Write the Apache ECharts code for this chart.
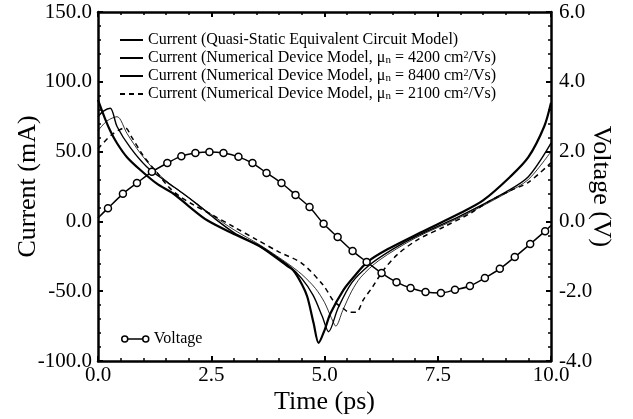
<!DOCTYPE html>
<html><head><meta charset="utf-8">
<script src="https://cdn.jsdelivr.net/npm/echarts@6/dist/echarts.min.js"></script>
<style>html,body{margin:0;padding:0;background:#fff}#c{width:633px;height:419px}</style>
</head><body><div id="c"></div>
<script>
// ---- data ----
// Quasi-static equivalent circuit model (mA)
const qsT = [0, 0.15, 0.27, 0.42, 0.64, 0.93, 1.3, 1.66, 2.0, 2.4, 3.0, 3.58, 4.18, 4.31, 4.5, 4.62, 4.76, 4.87, 5.0, 5.13, 5.42, 5.64, 5.95, 6.39, 7.12, 8.0, 8.5, 9.1, 9.5, 9.85, 10];
const qsI = [87, 74, 65, 56, 46, 37, 27, 20, 11, 1, -9, -18, -32, -35, -45, -54, -73, -87, -78, -66, -49, -40, -29, -20, -8, 6, 15, 32, 46, 68, 85];
// Numerical device model, mu_n = 8400
const n84T = [0, 0.12, 0.27, 0.42, 0.71, 1.08, 1.53, 1.88, 2.2, 2.5, 3.0, 3.58, 4.18, 4.5, 4.75, 4.95, 5.09, 5.3, 5.6, 6.0, 6.5, 7.0, 8.0, 9.0, 9.5, 10];
const n84I = [75, 79, 81, 68, 53, 39, 28, 20, 12, 4, -8, -18, -31, -41, -53, -68, -79, -62, -44, -31, -20, -11, 4, 21, 32, 56];
// Numerical device model, mu_n = 4200
const n42T = [0, 0.2, 0.42, 0.64, 0.93, 1.3, 1.66, 2.0, 2.5, 3.0, 3.58, 4.18, 4.5, 4.8, 5.0, 5.15, 5.25, 5.4, 5.6, 5.8, 6.2, 7.0, 8.0, 9.0, 9.5, 10];
const n42I = [65, 72, 75, 63, 49, 35, 25, 17, 5, -6, -17, -30, -38, -48, -58, -69, -75, -64, -50, -40, -28, -12, 3, 20, 30, 50];
// Numerical device model, mu_n = 2100
const n21T = [0, 0.3, 0.6, 0.75, 1.0, 1.3, 1.55, 1.8, 2.1, 2.5, 3.0, 3.5, 4.0, 4.5, 4.98, 5.2, 5.4, 5.55, 5.7, 5.86, 6.06, 6.3, 6.6, 7.06, 7.63, 8.23, 8.67, 9.1, 9.5, 10];
const n21I = [52, 62, 67, 60, 47, 35, 25, 18, 12, 5, -4, -13, -22, -30, -46, -57, -62, -65, -65, -56, -47, -35, -24, -13, -4, 6, 15, 22, 28, 42];
// Voltage (V)
const vT = [0, 0.22, 0.55, 0.86, 1.19, 1.53, 1.84, 2.15, 2.46, 2.77, 3.10, 3.41, 3.72, 4.05, 4.36, 4.67, 4.98, 5.29, 5.62, 5.93, 6.26, 6.59, 6.90, 7.23, 7.57, 7.88, 8.21, 8.54, 8.87, 9.20, 9.54, 9.87, 10];
const vV = [0.10, 0.38, 0.79, 1.10, 1.42, 1.67, 1.87, 1.96, 1.99, 1.96, 1.85, 1.67, 1.39, 1.10, 0.76, 0.41, -0.07, -0.45, -0.85, -1.16, -1.48, -1.74, -1.91, -2.02, -2.05, -1.96, -1.85, -1.62, -1.36, -1.02, -0.65, -0.28, -0.12];

const legendText = {
  'QS': 'Current (Quasi-Static Equivalent Circuit Model)',
  'N4200': 'Current (Numerical Device Model, μ{sub|n} = 4200 cm{sup|2}/Vs)',
  'N8400': 'Current (Numerical Device Model, μ{sub|n} = 8400 cm{sup|2}/Vs)',
  'N2100': 'Current (Numerical Device Model, μ{sub|n} = 2100 cm{sup|2}/Vs)',
  'Voltage': 'Voltage'
};

const zip = (a, b) => a.map((t, i) => [t, b[i]]);
const FONT = 'Liberation Serif';
const fmt1 = v => v.toFixed(1);

const chart = echarts.init(document.getElementById('c'), null, {renderer: 'canvas'});
const labelStyle = {color: '#000', fontFamily: FONT, fontSize: 21, formatter: fmt1};
const axisCommon = {
  axisLine: {show: true, onZero: false, lineStyle: {color: '#000', width: 2.5}},
  axisTick: {show: true, inside: true, length: 5, lineStyle: {color: '#000', width: 2}},
  minorTick: {show: true, splitNumber: 5, length: 3, lineStyle: {color: '#000', width: 1.5}},
  splitLine: {show: false},
  nameMoveOverlap: false
};
const nameStyle = {color: '#000', fontFamily: FONT, fontSize: 26};
chart.setOption({
  backgroundColor: '#fff',
  animation: false,
  grid: {left: 98, right: 82, top: 12, bottom: 58, containLabel: false, outerBoundsMode: 'none'},
  legend: [{
    data: ['QS', 'N4200', 'N8400', 'N2100'],
    orient: 'vertical', left: 114, top: 27, itemWidth: 23, itemHeight: 10, itemGap: 2,
    formatter: n => legendText[n],
    itemStyle: {color: 'transparent', borderColor: 'transparent', borderWidth: 0},
    textStyle: {color: '#000', fontFamily: FONT, fontSize: 16, lineHeight: 16,
      rich: {sub: {fontFamily: FONT, fontSize: 11, lineHeight: 16, verticalAlign: 'bottom', padding: [5, 0, 0, 0]},
             sup: {fontFamily: FONT, fontSize: 10, lineHeight: 16, verticalAlign: 'top', padding: [0, 0, 3, 0]}}}
  }, {
    data: ['Voltage'], orient: 'vertical', left: 116, top: 326, itemWidth: 27, itemHeight: 8,
    icon: 'path://M0,4 a3,3 0 1,0 6,0 a3,3 0 1,0 -6,0 M6,4 L21,4 M21,4 a3,3 0 1,0 6,0 a3,3 0 1,0 -6,0',
    itemStyle: {color: 'transparent', borderColor: '#000', borderWidth: 1.5},
    formatter: n => legendText[n],
    textStyle: {color: '#000', fontFamily: FONT, fontSize: 16}
  }],
  xAxis: [
    Object.assign({}, axisCommon, {type: 'value', min: 0, max: 10, interval: 2.5, position: 'bottom',
      name: 'Time (ps)', nameLocation: 'middle', nameGap: 28, nameTextStyle: nameStyle,
      axisLabel: Object.assign({}, labelStyle, {margin: 4})}),
    Object.assign({}, axisCommon, {type: 'value', min: 0, max: 10, interval: 2.5, position: 'top',
      axisLabel: {show: false}})
  ],
  yAxis: [
    Object.assign({}, axisCommon, {type: 'value', min: -100, max: 150, interval: 50, position: 'left',
      name: 'Current (mA)', nameLocation: 'middle', nameGap: 57, nameTextStyle: nameStyle,
      axisLabel: Object.assign({}, labelStyle, {margin: 6})}),
    Object.assign({}, axisCommon, {type: 'value', min: -4, max: 6, interval: 2, position: 'right',
      name: 'Voltage (V)', nameLocation: 'middle', nameGap: 37, nameRotate: -90, nameTextStyle: nameStyle,
      axisLabel: Object.assign({}, labelStyle, {margin: 8})})
  ],
  series: [
    {name: 'QS', type: 'line', data: zip(qsT, qsI), smooth: 0.3, symbol: 'none',
     lineStyle: {color: '#000', width: 2.2}, itemStyle: {color: '#000'}},
    {name: 'N4200', type: 'line', data: zip(n42T, n42I), smooth: 0.3, symbol: 'none',
     lineStyle: {color: '#000', width: 0.8}, itemStyle: {color: '#000'}},
    {name: 'N8400', type: 'line', data: zip(n84T, n84I), smooth: 0.3, symbol: 'none',
     lineStyle: {color: '#000', width: 1.4}, itemStyle: {color: '#000'}},
    {name: 'N2100', type: 'line', data: zip(n21T, n21I), smooth: 0.3, symbol: 'none',
     lineStyle: {color: '#000', width: 1.5, type: [5, 4]}, itemStyle: {color: '#000'}},
    {name: 'Voltage', type: 'line', yAxisIndex: 1, data: zip(vT, vV), smooth: 0.3,
     symbol: (v, p) => (p.dataIndex === 0 || p.dataIndex === vT.length - 1) ? 'none' : 'circle',
     symbolSize: 7, showAllSymbol: true,
     lineStyle: {color: '#000', width: 1.5},
     itemStyle: {color: '#fff', borderColor: '#000', borderWidth: 1.5}, z: 3}
  ]
});
</script></body></html>
